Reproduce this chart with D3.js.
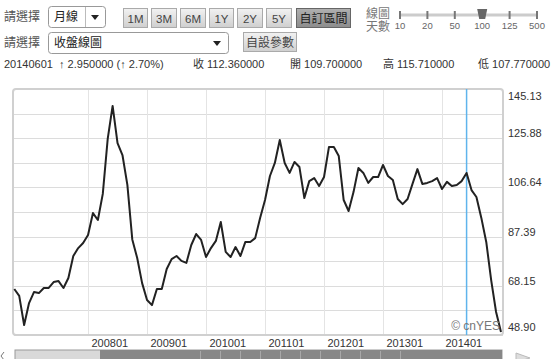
<!DOCTYPE html>
<meta charset="utf-8">
<script src="https://cdn.jsdelivr.net/npm/d3@7"></script>
<style>
  body { margin: 0; background: #fff; }
  svg { display: block; font-family: "Liberation Sans", Arial, "Noto Sans CJK TC", sans-serif; }
</style>
<body>
<script>

// monthly closes, starting 200610 and ending 201501
var startMonth = "200610"
var closes = [
  66.9, 64.2, 52.8, 61.4, 65.7, 65.3, 67.3, 67.3, 69.6, 70.0, 67.3, 71.2, 79.8, 82.9, 84.9,
  88.0, 96.6, 93.9, 104.1, 125.6, 138.5, 124.0, 119.3, 107.6, 86.3, 79.0, 69.2,
  62.6, 60.6, 66.9, 66.9, 74.7, 78.6, 79.8, 77.9, 77.1, 84.1, 88.4, 86.1,
  79.4, 82.9, 85.7, 93.1, 81.4, 79.4, 83.3, 79.8, 85.3, 85.3, 86.8, 94.7,
  101.7, 111.1, 116.2, 125.2, 116.2, 112.3, 116.6, 114.6, 102.5, 109.1, 110.3, 107.2,
  110.7, 122.4, 122.4, 118.9, 101.7, 97.4, 104.8, 114.2, 112.3, 108.4, 110.7, 110.7,
  115.4, 111.1, 109.5, 102.1, 100.1, 102.1, 108.0, 113.8, 108.0, 108.4, 109.1, 110.3,
  106.0, 108.8, 107.2, 107.6, 109.1, 112.3, 105.6, 102.9, 94.7, 85.3, 70.4, 57.9, 50.1
]
var xTicks = ["200801", "200901", "201001", "201101", "201201", "201301", "201401"]
var yTicks = [48.90, 68.15, 87.39, 106.64, 125.88, 145.13]
var cursorMonth = "201406"
var periodButtons = ["1M", "3M", "6M", "1Y", "2Y", "5Y", "自訂區間"]
var daysLabels = ["10", "20", "50", "100", "125", "500"]
var infoTexts = ["20140601  ↑ 2.950000 (↑ 2.70%)", "收 112.360000", "開 109.700000", "高 115.710000", "低 107.770000"]

function monthIdx(s) {
  return (+s.slice(0, 4) - +startMonth.slice(0, 4)) * 12 + (+s.slice(4) - +startMonth.slice(4))
}

var width = 553, height = 359
var svg = d3.select("body").append("svg").attr("width", width).attr("height", height)

var x = d3.scaleLinear().domain([0, closes.length - 1]).range([14.3, 501])
var y = d3.scaleLinear().domain([yTicks[0], yTicks[yTicks.length - 1]]).range([335, 89])

var defs = svg.append("defs")
var g1 = defs.append("linearGradient").attr("id", "btn").attr("x1", 0).attr("y1", 0).attr("x2", 0).attr("y2", 1)
g1.append("stop").attr("offset", "0").attr("stop-color", "#f2f2f2")
g1.append("stop").attr("offset", "1").attr("stop-color", "#cfcfcf")
var g2 = defs.append("linearGradient").attr("id", "btnOn").attr("x1", 0).attr("y1", 0).attr("x2", 0).attr("y2", 1)
g2.append("stop").attr("offset", "0").attr("stop-color", "#b0b0b0")
g2.append("stop").attr("offset", "1").attr("stop-color", "#8c8c8c")

// ---- controls ----
var ctl = svg.append("g").style("font-size", "12px").attr("fill", "#555")
ctl.append("text").attr("x", 4).attr("y", 21).text("請選擇")
ctl.append("text").attr("x", 4).attr("y", 47).text("請選擇")

// dropdown 1
ctl.append("rect").attr("x", 48.5).attr("y", 6.5).attr("width", 57).attr("height", 21).attr("rx", 3)
   .attr("fill", "#fff").attr("stroke", "#999")
ctl.append("line").attr("x1", 85.5).attr("x2", 85.5).attr("y1", 7).attr("y2", 27).attr("stroke", "#bbb")
ctl.append("text").attr("x", 54).attr("y", 21).attr("fill", "#222").text("月線")
ctl.append("path").attr("d", "M91,15 L99,15 L95,20 Z").attr("fill", "#222")

// dropdown 2
ctl.append("rect").attr("x", 48.5).attr("y", 32.5).attr("width", 180).attr("height", 21).attr("rx", 3)
   .attr("fill", "#fff").attr("stroke", "#999")
ctl.append("text").attr("x", 54).attr("y", 47).attr("fill", "#222").text("收盤線圖")
ctl.append("path").attr("d", "M213,41 L221,41 L217,46 Z").attr("fill", "#222")

// period buttons
var btnX = [123, 151, 180, 209, 237, 266, 296]
var btnW = [24, 25, 25, 24, 25, 25, 54]
periodButtons.forEach(function(b, i) {
  var on = i === periodButtons.length - 1
  ctl.append("rect").attr("x", btnX[i] + 0.5).attr("y", 8.5).attr("width", btnW[i]).attr("height", 19)
     .attr("fill", on ? "url(#btnOn)" : "url(#btn)").attr("stroke", on ? "#666" : "#aaa")
  ctl.append("text").attr("x", btnX[i] + btnW[i] / 2 + 0.5).attr("y", 22.5).attr("text-anchor", "middle")
     .attr("fill", on ? "#222" : "#444").style("font-size", on ? "12px" : "11.5px").text(b)
})

// settings button
ctl.append("rect").attr("x", 243.5).attr("y", 32.5).attr("width", 53).attr("height", 19)
   .attr("fill", "url(#btn)").attr("stroke", "#aaa")
ctl.append("text").attr("x", 270).attr("y", 46.5).attr("text-anchor", "middle").attr("fill", "#444").text("自設參數")

// days slider
ctl.append("text").attr("x", 366).attr("y", 18).attr("fill", "#777").text("線圖")
ctl.append("text").attr("x", 366).attr("y", 31).attr("fill", "#777").text("天數")
var sx = d3.scalePoint().domain(daysLabels).range([400, 537])
ctl.append("line").attr("x1", 400).attr("x2", 537).attr("y1", 15).attr("y2", 15)
   .attr("stroke", "#ccc").attr("stroke-width", 3)
daysLabels.forEach(function(d) {
  ctl.append("line").attr("x1", sx(d)).attr("x2", sx(d)).attr("y1", 11).attr("y2", 19)
     .attr("stroke", "#777").attr("stroke-width", 2)
  ctl.append("text").attr("x", sx(d)).attr("y", 29).attr("text-anchor", "middle")
     .style("font-size", "9.5px").attr("fill", "#666").text(d)
})
var hx = sx("100")
ctl.append("path").attr("d", "M" + (hx - 5) + ",9 L" + (hx + 5) + ",9 L" + (hx + 3) + ",19 L" + (hx - 3) + ",19 Z").attr("fill", "#666")

// info row
var infoX = [4, 193, 290, 383, 478]
infoTexts.forEach(function(t, i) {
  svg.append("text").attr("x", infoX[i]).attr("y", 67.5).style("font-size", "11px").attr("fill", "#333")
     .attr("xml:space", "preserve").style("white-space", "pre").text(t)
})

// ---- chart ----
var grid = svg.append("g")
d3.range(11).forEach(function(i) {
  var v = yTicks[0] + i * (yTicks[yTicks.length - 1] - yTicks[0]) / 10
  grid.append("line").attr("x1", 14).attr("x2", 503).attr("y1", Math.round(y(v)) + 0.5).attr("y2", Math.round(y(v)) + 0.5)
      .attr("stroke", "#dcdcdc")
})
xTicks.forEach(function(t) {
  var px = Math.round(x(monthIdx(t))) + 0.5
  grid.append("line").attr("x1", px).attr("x2", px).attr("y1", 89).attr("y2", 335).attr("stroke", "#e4e4e4")
  svg.append("text").attr("x", px + 3).attr("y", 347).style("font-size", "11px").attr("fill", "#333").text(t)
})
svg.append("rect").attr("x", 13).attr("y", 89).attr("width", 490).attr("height", 246).attr("rx", 3)
   .attr("fill", "none").attr("stroke", "#d0d0d0").attr("stroke-width", 2)

yTicks.forEach(function(t, i) {
  var py = y(t) - 1
  if (i === 0) py = y(t) - 4
  if (i === yTicks.length - 1) py = y(t) + 11
  svg.append("text").attr("x", 508).attr("y", py).style("font-size", "11px").attr("fill", "#333").text(t.toFixed(2))
})

var cx = x(monthIdx(cursorMonth))
svg.append("line").attr("x1", cx).attr("x2", cx).attr("y1", 89).attr("y2", 335)
   .attr("stroke", "#5fb4ec").attr("stroke-width", 1.5)

var line = d3.line().x(function(d, i) { return x(i) }).y(function(d) { return y(d) })
svg.append("path").attr("d", line(closes)).attr("fill", "none").attr("stroke", "#222")
   .attr("stroke-width", 2).attr("stroke-linejoin", "round")

svg.append("text").attr("x", 500).attr("y", 330).attr("text-anchor", "end").style("font-size", "12px")
   .attr("fill", "#777").text("© cnYES")

// ---- scrollbar ----
svg.append("rect").attr("x", 15).attr("y", 350).attr("width", 487).attr("height", 12).attr("fill", "#d9d9d9").attr("stroke", "#999")
svg.append("rect").attr("x", 100).attr("y", 350).attr("width", 402).attr("height", 12).attr("fill", "#878787")
d3.range(200, 401, 20).forEach(function(t) {
  svg.append("line").attr("x1", t + 0.5).attr("x2", t + 0.5).attr("y1", 351).attr("y2", 359).attr("stroke", "#a8a8a8")
})
svg.append("path").attr("d", "M4,352 L1,356 L4,360").attr("fill", "none").attr("stroke", "#777")
svg.append("path").attr("d", "M516,353 L530,358 L516,362 Z").attr("fill", "#ddd").attr("stroke", "#bbb")

</script>
</body>
